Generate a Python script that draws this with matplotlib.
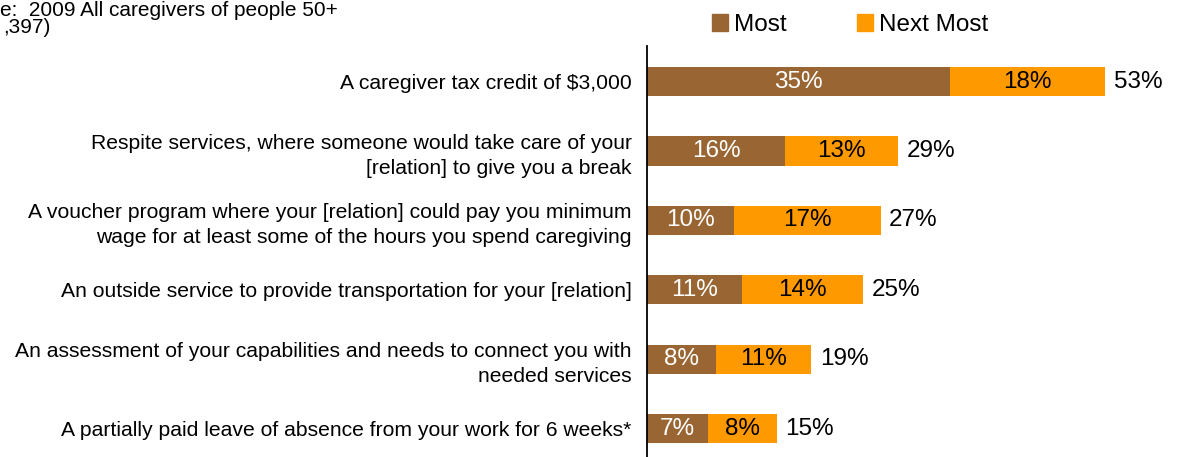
import matplotlib
matplotlib.use("Agg")
import matplotlib.pyplot as plt
from matplotlib.patches import Patch

plt.rcParams['font.family'] = ['Liberation Sans', 'DejaVu Sans']

categories = [
    "A caregiver tax credit of $3,000",
    "Respite services, where someone would take care of your\n[relation] to give you a break",
    "A voucher program where your [relation] could pay you minimum\nwage for at least some of the hours you spend caregiving",
    "An outside service to provide transportation for your [relation]",
    "An assessment of your capabilities and needs to connect you with\nneeded services",
    "A partially paid leave of absence from your work for 6 weeks*",
]
most = [35, 16, 10, 11, 8, 7]
next_most = [18, 13, 17, 14, 11, 8]
totals = [53, 29, 27, 25, 19, 15]

brown = "#996633"
orange = "#FF9900"

fig = plt.figure(figsize=(11.79, 4.57), dpi=100)
ax = fig.add_axes([0.5488, 0.0, 0.4512, 0.899])

y = list(range(len(categories)))
ax.barh(y, most, height=0.42, color=brown)
ax.barh(y, next_most, left=most, height=0.42, color=orange)

for i in y:
    ax.text(most[i] / 2, i, f"{most[i]}%", ha='center', va='center',
            color='white', fontsize=17.5)
    ax.text(most[i] + next_most[i] / 2, i, f"{next_most[i]}%", ha='center',
            va='center', color='black', fontsize=17.5)
    ax.text(totals[i] + 1.0, i, f"{totals[i]}%", ha='left', va='center',
            color='black', fontsize=17.5)

ax.set_xlim(0, 61.5)
ax.set_ylim(5.41, -0.512)
ax.set_yticks(y)
ax.set_yticklabels(categories, fontsize=15.2, linespacing=1.4)
ax.tick_params(axis='y', length=0, pad=11)
ax.set_xticks([])
for s in ['top', 'right', 'bottom']:
    ax.spines[s].set_visible(False)
ax.spines['left'].set_linewidth(1.3)

handles = [Patch(color=brown, label="Most"), Patch(color=orange, label="Next Most")]
fig.legend(handles=handles, loc='center', bbox_to_anchor=(0.721, 0.945), ncol=2,
           frameon=False, fontsize=17.5, handlelength=0.66, handleheight=0.66,
           handletextpad=0.25, columnspacing=2.9)

fig.text(0.0, 0.978, "e:  2009 All caregivers of people 50+", ha='left', va='center',
         fontsize=15)
fig.text(0.003, 0.94, ",397)", ha='left', va='center', fontsize=15)

fig.savefig("out.png", dpi=100)
